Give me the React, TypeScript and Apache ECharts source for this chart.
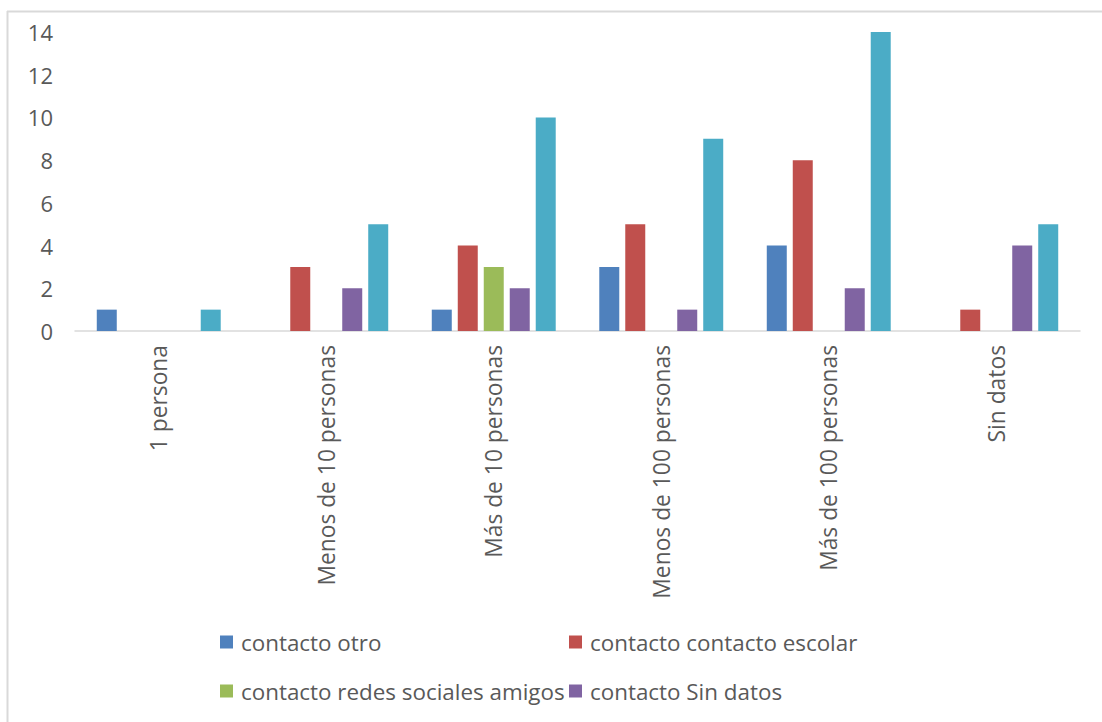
import React, { useEffect, useRef } from "react";
import * as echarts from "echarts";

const categories = [
  "1 persona",
  "Menos de 10 personas",
  "Más de 10 personas",
  "Menos de 100 personas",
  "Más de 100 personas",
  "Sin datos",
];

const contactoOtro = [1, 0, 1, 3, 4, 0];
const contactoEscolar = [0, 3, 4, 5, 8, 1];
const contactoRedes = [0, 0, 3, 0, 0, 0];
const contactoSinDatos = [0, 2, 2, 1, 2, 4];
const contactoOtros = [1, 5, 10, 9, 14, 5];

const seriesNames = [
  "contacto otro",
  "contacto contacto escolar",
  "contacto redes sociales amigos",
  "contacto Sin datos",
  "contacto no especificado",
];
const seriesValues = [contactoOtro, contactoEscolar, contactoRedes, contactoSinDatos, contactoOtros];
const colors = ["#4F81BD", "#C0504D", "#9BBB59", "#8064A2", "#4BACC6"];

const FONT = "'Open Sans', sans-serif";
const TEXT = "#595959";
const FS = 22.8;

export default function App() {
  const ref = useRef<HTMLDivElement>(null);

  useEffect(() => {
    if (!ref.current) return;
    const chart = echarts.init(ref.current, undefined, { renderer: "svg" });

    // 2 x 2 legend layout (the last series has no legend entry)
    const legendPos = [
      { left: 215, top: 626 },
      { left: 564, top: 626 },
      { left: 215, top: 675 },
      { left: 564, top: 675 },
    ];

    chart.setOption({
      animation: false,
      backgroundColor: "#fff",
      textStyle: { fontFamily: FONT },
      grid: { left: 75, right: 22, top: 32, bottom: 391, containLabel: false },
      legend: legendPos.map((p, i) => ({
        data: [seriesNames[i]],
        left: p.left,
        top: p.top,
        icon: "rect",
        itemWidth: 13,
        itemHeight: 13,
        itemGap: 4,
        textStyle: { color: TEXT, fontSize: 22.4, fontFamily: FONT, padding: [0, 0, 0, 3] },
        selectedMode: false,
      })),
      xAxis: {
        type: "category",
        data: categories,
        axisLine: { lineStyle: { color: "#D9D9D9", width: 1.5 } },
        axisTick: { show: false },
        axisLabel: {
          rotate: 90,
          margin: 14,
          color: TEXT,
          fontSize: FS,
          fontFamily: FONT,
          interval: 0,
        },
      },
      yAxis: {
        type: "value",
        min: 0,
        max: 14,
        interval: 2,
        axisLine: { show: false },
        axisTick: { show: false },
        splitLine: { show: false },
        axisLabel: { color: TEXT, fontSize: 22, fontFamily: FONT, margin: 22 },
      },
      series: seriesNames.map((name, i) => ({
        name,
        type: "bar",
        data: seriesValues[i],
        barGap: "30%",
        barCategoryGap: "26%",
        itemStyle: { color: colors[i] },
      })),
      graphic: [
        { type: "line", shape: { x1: 7.5, y1: 11, x2: 7.5, y2: 722 }, style: { stroke: "#D9D9D9", lineWidth: 2 } },
        { type: "line", shape: { x1: 7, y1: 11.5, x2: 1102, y2: 11.5 }, style: { stroke: "#D9D9D9", lineWidth: 2 } },
      ],
    });

    return () => chart.dispose();
  }, []);

  return (
    <div
      ref={ref}
      style={{ position: "absolute", left: 0, top: 0, width: 1102, height: 722 }}
    />
  );
}
